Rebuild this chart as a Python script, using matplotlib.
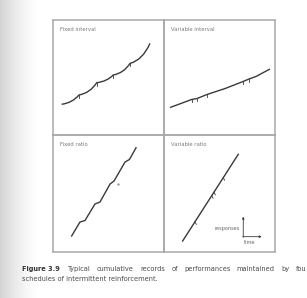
import numpy as np
import matplotlib
matplotlib.use('Agg')
import matplotlib.pyplot as plt
from matplotlib.path import Path
from matplotlib.patches import PathPatch

# cumulative records, panel units 0..100 (x = time, y = responses)
fi_x = [7.8, 23.4, 39.4, 54.3, 69.4, 87.4]
fi_y = [26.7, 34.8, 45.5, 52.2, 62.3, 79.7]
fi_pips = [1, 2, 3, 4]

vi_x = [6.0, 25.0, 29.7, 38.7, 55.0, 71.2, 76.6, 82.9, 94.9]
vi_y = [24.1, 30.9, 31.7, 35.2, 40.4, 46.5, 48.7, 50.9, 57.1]
vi_pips = [1, 2, 3, 5, 6]

fr_x = [16.8, 24.3, 28.8, 37.8, 42.3, 51.4, 55.0, 64.9, 68.9, 74.8]
fr_y = [13.7, 25.6, 26.9, 41.0, 42.7, 58.1, 60.7, 76.9, 79.1, 89.1]

vr_x = [16.8, 66.9]
vr_y = [9.4, 83.5]
vr_pips = [27.9, 43.0, 45.0, 53.4]

titles = ['Fixed interval', 'Variable interval', 'Fixed ratio', 'Variable ratio']

caption_label = 'Figure 3.9'
caption_line1 = ['Typical', 'cumulative', 'records', 'of', 'performances',
                 'maintained', 'by', 'fou']
caption_line2 = 'schedules of intermittent reinforcement.'

W, H = 307, 298
fig = plt.figure(figsize=(W / 100, H / 100), dpi=100)

# scanned page shading on the left
bg = fig.add_axes([0, 0, 1, 1], zorder=-5)
xs = np.linspace(0, 1, W)
shade = np.clip(1 - xs / 0.13, 0, 1) ** 1.5
img = 1 - 0.17 * np.tile(shade, (H, 1))
bg.imshow(img, cmap='gray', vmin=0, vmax=1, aspect='auto', extent=[0, 1, 0, 1])
bg.set_axis_off()


def px_axes(x0, y0, x1, y1):
    return fig.add_axes([x0 / W, 1 - y1 / H, (x1 - x0) / W, (y1 - y0) / H])


boxes = [(53, 20, 164, 135), (164, 20, 275, 135),
         (53, 135, 164, 252), (164, 135, 275, 252)]
axes = []
for b, t in zip(boxes, titles):
    ax = px_axes(*b)
    ax.set_xlim(0, 100)
    ax.set_ylim(0, 100)
    ax.set_xticks([])
    ax.set_yticks([])
    ax.patch.set_alpha(0)
    for s in ax.spines.values():
        s.set_color('#a8a8a8')
        s.set_linewidth(1.1)
    ax.text(0.065, 0.915, t, transform=ax.transAxes, fontsize=3.8,
            color='#7a7a7a', ha='left', va='center')
    axes.append(ax)

ink = '#3a3a3a'
lw = 1.0

# fixed interval: scallops drawn as quadratic curves
verts = [(fi_x[0], fi_y[0])]
codes = [Path.MOVETO]
for i in range(1, len(fi_x)):
    x0, y0, x1, y1 = fi_x[i - 1], fi_y[i - 1], fi_x[i], fi_y[i]
    verts += [(x0 + 0.62 * (x1 - x0), y0 + 0.15 * (y1 - y0)), (x1, y1)]
    codes += [Path.CURVE3, Path.CURVE3]
axes[0].add_patch(PathPatch(Path(verts, codes), fill=False, ec=ink, lw=lw))
for i in fi_pips:
    axes[0].plot([fi_x[i], fi_x[i]], [fi_y[i] - 2.6, fi_y[i]], color=ink, lw=0.6)

# variable interval
axes[1].plot(vi_x, vi_y, color=ink, lw=lw)
for i in vi_pips:
    axes[1].plot([vi_x[i], vi_x[i]], [vi_y[i] - 2.4, vi_y[i]], color=ink, lw=0.6)

# fixed ratio
axes[2].plot(fr_x, fr_y, color=ink, lw=lw)
axes[2].plot([58.8], [57.8], marker='.', ms=1.2, color='#888888')

# variable ratio
axes[3].plot(vr_x, vr_y, color=ink, lw=lw)
for px in vr_pips:
    py = np.interp(px, vr_x, vr_y)
    axes[3].plot([px, px + 1.2], [py, py - 2.2], color=ink, lw=0.6)

# responses / time key
ax = axes[3]
ax.annotate('', xy=(71.4, 30.2), xytext=(71.4, 12.6),
            arrowprops=dict(arrowstyle='-|>', lw=0.6, color=ink,
                            mutation_scale=3, shrinkA=0, shrinkB=0))
ax.annotate('', xy=(88.0, 13.1), xytext=(70.9, 13.1),
            arrowprops=dict(arrowstyle='-|>', lw=0.6, color=ink,
                            mutation_scale=3, shrinkA=0, shrinkB=0))
ax.text(68.5, 19.7, 'responses', fontsize=3.6, color='#666666',
        ha='right', va='center')
ax.text(77.5, 8.4, 'time', fontsize=3.6, color='#666666',
        ha='center', va='center')

# caption, justified first line
cap_fs = 4.8
cap_col = '#4a4a4a'
fig.text(22 / W, 1 - 269 / H, caption_label, fontsize=cap_fs, color='#333333',
         fontweight='bold', ha='left', va='center')
fig.canvas.draw()
r = fig.canvas.get_renderer()
words = [fig.text(0, 1 - 269 / H, w, fontsize=cap_fs, color=cap_col,
                  ha='left', va='center') for w in caption_line1]
widths = [t.get_window_extent(r).width for t in words]
x_left, x_right = 68.0, 306.0
gap = (x_right - x_left - sum(widths)) / (len(words) - 1)
x = x_left
for t, wd in zip(words, widths):
    t.set_x(x / W)
    x += wd + gap
fig.text(22 / W, 1 - 279 / H, caption_line2, fontsize=cap_fs, color=cap_col,
         ha='left', va='center')

fig.savefig('out.png', dpi=100)
